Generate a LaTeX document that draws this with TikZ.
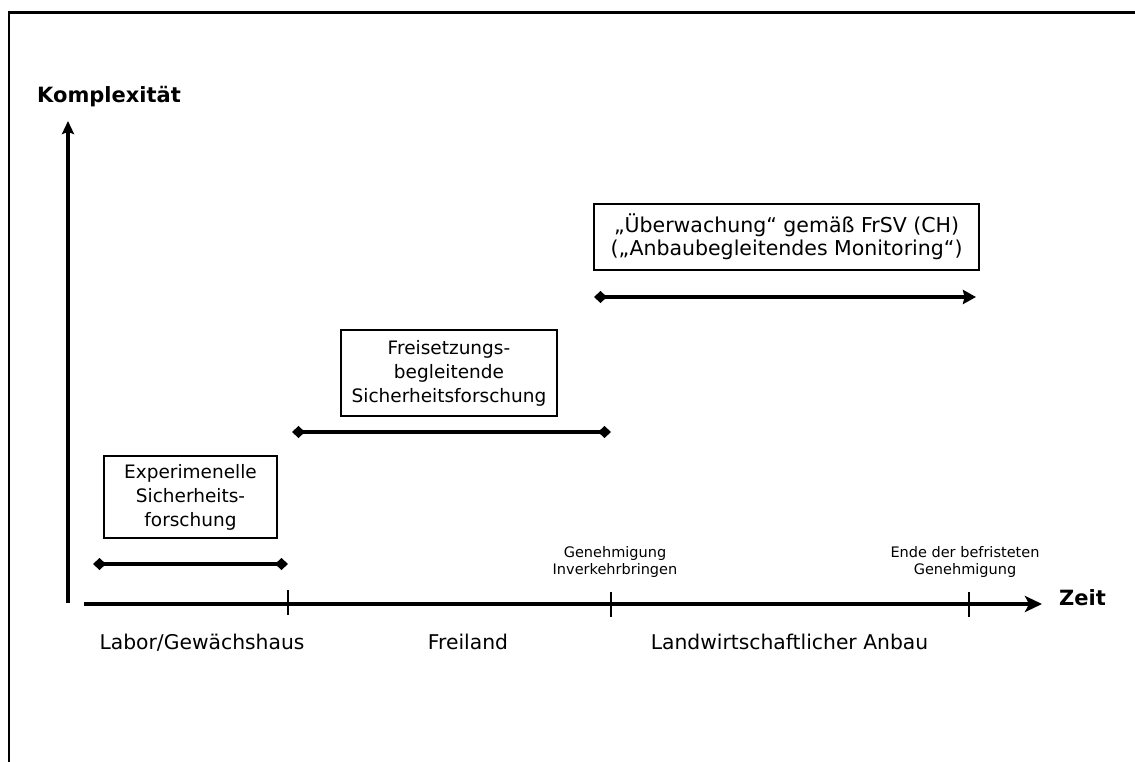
\documentclass[tikz,border=0pt]{standalone}
\usepackage{fontspec}
\setmainfont{DejaVu Sans}
\usetikzlibrary{arrows.meta}
\begin{document}
\begin{tikzpicture}[x=1pt,y=-1pt,
  frameline/.style={line width=2.4pt},
  axisline/.style={line width=3.2pt},
  barline/.style={line width=3.6pt},
  phasebox/.style={draw,line width=1.1pt,align=center,inner sep=0pt,font=\fontsize{18.5}{24}\selectfont},
  smalllabel/.style={align=center,inner sep=0pt,font=\fontsize{14.5}{17.5}\selectfont},
  phaselabel/.style={font=\fontsize{20.3}{24}\selectfont},
  axislabel/.style={font=\fontsize{21}{24}\selectfont\bfseries},
  dia/.tip={Diamond[length=13pt,width=12pt]},
  arr/.tip={Stealth[length=13pt,width=14pt,inset=1.5pt]}]
\useasboundingbox (0,0) rectangle (1135,762);
\fill[white] (0,0) rectangle (1135,762);
% frame
\coordinate (fa) at (9,762);
\coordinate (fb) at (9,12.5);
\coordinate (fc) at (1135,12.5);
\draw[frameline] (fa) -- (fb) -- (fc);
% axes
\coordinate (yo) at (68,603);
\coordinate (yt) at (68,121);
\coordinate (xo) at (84,604);
\coordinate (xt) at (1042,604);
\draw[axisline,-{Stealth[length=13pt,width=12pt,inset=2pt]}] (yo) -- (yt);
\draw[axisline,-{Stealth[length=17pt,width=16pt,inset=4pt]}] (xo) -- (xt);
\node[axislabel,anchor=west,inner sep=0pt] (komp) at (37,97) {Komplexität};
\node[axislabel,anchor=base west,inner sep=0pt] (zeit) at (1059,605) {Zeit};
% ticks
\coordinate (t1a) at (288,590); \coordinate (t1b) at (288,615);
\coordinate (t2a) at (611,592); \coordinate (t2b) at (611,617);
\coordinate (t3a) at (969,592); \coordinate (t3b) at (969,617);
\draw[line width=2pt] (t1a) -- (t1b);
\draw[line width=2.8pt] (t2a) -- (t2b);
\draw[line width=1.5pt] (t3a) -- (t3b);
% phase labels
\node[phaselabel,anchor=base] (lab) at (202,649) {Labor/Gewächshaus};
\node[phaselabel,anchor=base] (frei) at (468,649) {Freiland};
\node[phaselabel,anchor=base] (anbau) at (789.5,649) {Landwirtschaftlicher Anbau};
% milestone labels
\node[smalllabel,anchor=south] (gen) at (615,578) {Genehmigung\\Inverkehrbringen};
\node[smalllabel,anchor=south] (ende) at (965,578) {Ende der befristeten\\Genehmigung};
% bars
\coordinate (b1a) at (93,564); \coordinate (b1b) at (288,564);
\coordinate (b2a) at (292,432); \coordinate (b2b) at (611,432);
\coordinate (b3a) at (594,297); \coordinate (b3b) at (976,297);
\draw[barline,{dia}-{dia}] (b1a) -- (b1b);
\draw[barline,{dia}-{dia}] (b2a) -- (b2b);
\draw[barline,{dia}-{arr}] (b3a) -- (b3b);
% boxes
\node[phasebox,minimum width=173pt,minimum height=82pt] (box1) at (190.5,497) {Experimenelle\\Sicherheits-\\forschung};
\node[phasebox,minimum width=216pt,minimum height=86pt] (box2) at (449,373) {Freisetzungs-\\begleitende\\Sicherheitsforschung};
\node[phasebox,minimum width=385pt,minimum height=66pt,font=\fontsize{20.5}{23.5}\selectfont] (box3) at (786.5,237) {„Überwachung“ gemäß FrSV (CH)\\(„Anbaubegleitendes Monitoring“)};
\end{tikzpicture}
\end{document}
